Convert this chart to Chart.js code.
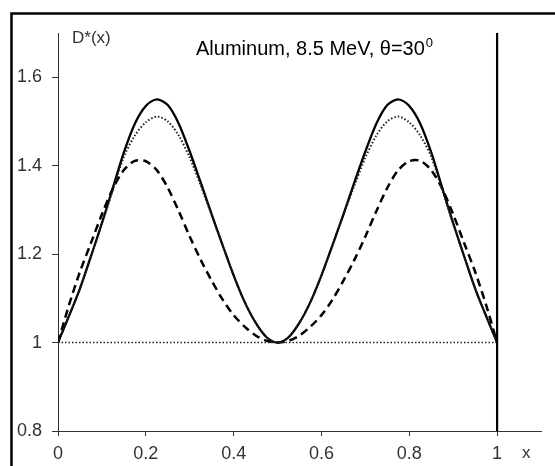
<!DOCTYPE html>
<html>
<head>
<meta charset="utf-8">
<script src="https://cdn.jsdelivr.net/npm/chart.js@4"></script>
<style>
  html,body{margin:0;padding:0;background:#fff;}
  #wrap{position:relative;width:555px;height:466px;}
</style>
</head>
<body>
<div id="wrap"><canvas id="plot" width="555" height="466"></canvas></div>
<script>
/* ===== Data ===== */
const xVals = [0,0.025,0.05,0.075,0.1,0.125,0.15,0.175,0.2,0.225,0.25,0.275,0.3,0.325,0.35,0.375,0.4,0.425,0.45,0.475,
  0.5,0.525,0.55,0.575,0.6,0.625,0.65,0.675,0.7,0.725,0.75,0.775,0.8,0.825,0.85,0.875,0.9,0.925,0.95,0.975,1];

const solidY = [1.000,1.060,1.122,1.195,1.270,1.350,1.430,1.495,1.535,1.550,1.537,1.495,1.432,1.362,1.290,1.220,1.152,1.092,1.045,1.012,
  1.000,1.012,1.045,1.092,1.152,1.220,1.290,1.362,1.432,1.495,1.537,1.550,1.535,1.495,1.430,1.350,1.270,1.195,1.122,1.060,1.000];

const dottedY = [1.000,1.060,1.122,1.195,1.268,1.345,1.420,1.468,1.498,1.511,1.500,1.468,1.418,1.355,1.288,1.220,1.152,1.092,1.045,1.012,
  1.000,1.012,1.045,1.092,1.152,1.220,1.288,1.355,1.418,1.468,1.500,1.511,1.498,1.468,1.420,1.345,1.268,1.195,1.122,1.060,1.000];

const dashedY = [1.000,1.085,1.160,1.225,1.290,1.348,1.390,1.411,1.410,1.390,1.350,1.297,1.240,1.187,1.140,1.097,1.062,1.036,1.016,1.004,
  1.000,1.004,1.016,1.036,1.062,1.097,1.140,1.187,1.240,1.297,1.350,1.390,1.410,1.411,1.390,1.348,1.290,1.225,1.160,1.085,1.000];

const xTicks = [0,0.2,0.4,0.6,0.8,1];
const yTicks = [0.8,1,1.2,1.4,1.6];
const titleText = "Aluminum, 8.5 MeV, \u03B8=30";
const titleSup = "0";
const yLabel = "D*(x)";
const xLabel = "x";

const pts = ys => xVals.map((x,i)=>({x, y: ys[i]}));

/* ===== Frame + texts ===== */
const decor = {
  id: "decor",
  beforeDraw(c){
    const ctx = c.ctx;
    ctx.save();
    ctx.fillStyle = "#fff";
    ctx.fillRect(0,0,c.width,c.height);
    ctx.strokeStyle = "#000";
    ctx.lineWidth = 2.5;
    ctx.beginPath();
    ctx.moveTo(11.5,470);
    ctx.lineTo(11.5,13.5);
    ctx.lineTo(560,13.5);
    ctx.stroke();
    ctx.restore();
  },
  afterDraw(c){
    const ctx = c.ctx;
    ctx.save();
    ctx.fillStyle = "#000";
    ctx.textBaseline = "alphabetic";
    ctx.font = "20px 'Liberation Sans', Arial, sans-serif";
    ctx.fillText(titleText, 196, 55);
    const w = ctx.measureText(titleText).width;
    ctx.font = "13px 'Liberation Sans', Arial, sans-serif";
    ctx.fillText(titleSup, 196 + w + 1, 47);
    ctx.fillStyle = "#333";
    ctx.font = "17px 'Liberation Sans', Arial, sans-serif";
    ctx.fillText(yLabel, 72, 43);
    ctx.fillText(xLabel, 522, 458);
    ctx.restore();
  }
};

new Chart(document.getElementById("plot"), {
  type: "line",
  data: {
    datasets: [
      { data: [{x:1,y:0.8},{x:1,y:1.7}], borderColor:"#000", borderWidth:2.2, pointRadius:0 },
      { data: [{x:0,y:1},{x:1,y:1}], borderColor:"#222", borderWidth:1.5, borderDash:[1.5,2], pointRadius:0 },
      { data: pts(dottedY), borderColor:"#222", borderWidth:2, borderDash:[1.5,2], pointRadius:0, tension:0.3 },
      { data: pts(dashedY), borderColor:"#000", borderWidth:2.5, borderDash:[8,5], pointRadius:0, tension:0.3 },
      { data: pts(solidY), borderColor:"#000", borderWidth:2.3, pointRadius:0, tension:0.3 }
    ]
  },
  options: {
    responsive: false,
    animation: false,
    layout: { padding: { top:33, right:14, left:0, bottom:0 } },
    plugins: { legend:{display:false}, tooltip:{enabled:false} },
    scales: {
      x: {
        type: "linear", min: 0, max: 1.1,
        afterBuildTicks: s => { s.ticks = xTicks.map(v=>({value:v})); },
        afterFit: s => { s.height = 35; },
        grid: { drawOnChartArea:false, drawTicks:true, tickLength:5, color:"#333" },
        border: { display:true, color:"#333", width:1 },
        ticks: { color:"#333", padding:7, maxRotation:0, font:{family:"'Liberation Sans', Arial, sans-serif", size:18},
          callback: v => String(+v.toFixed(1)) }
      },
      y: {
        type: "linear", min: 0.8, max: 1.7,
        afterBuildTicks: s => { s.ticks = yTicks.map(v=>({value:v})); },
        afterFit: s => { s.width = 58; },
        grid: { drawOnChartArea:false, drawTicks:true, tickLength:6, color:"#333" },
        border: { display:true, color:"#333", width:1 },
        ticks: { color:"#333", padding:10, font:{family:"'Liberation Sans', Arial, sans-serif", size:18},
          callback: v => String(+v.toFixed(1)) }
      }
    }
  },
  plugins: [decor]
});
</script>
</body>
</html>
